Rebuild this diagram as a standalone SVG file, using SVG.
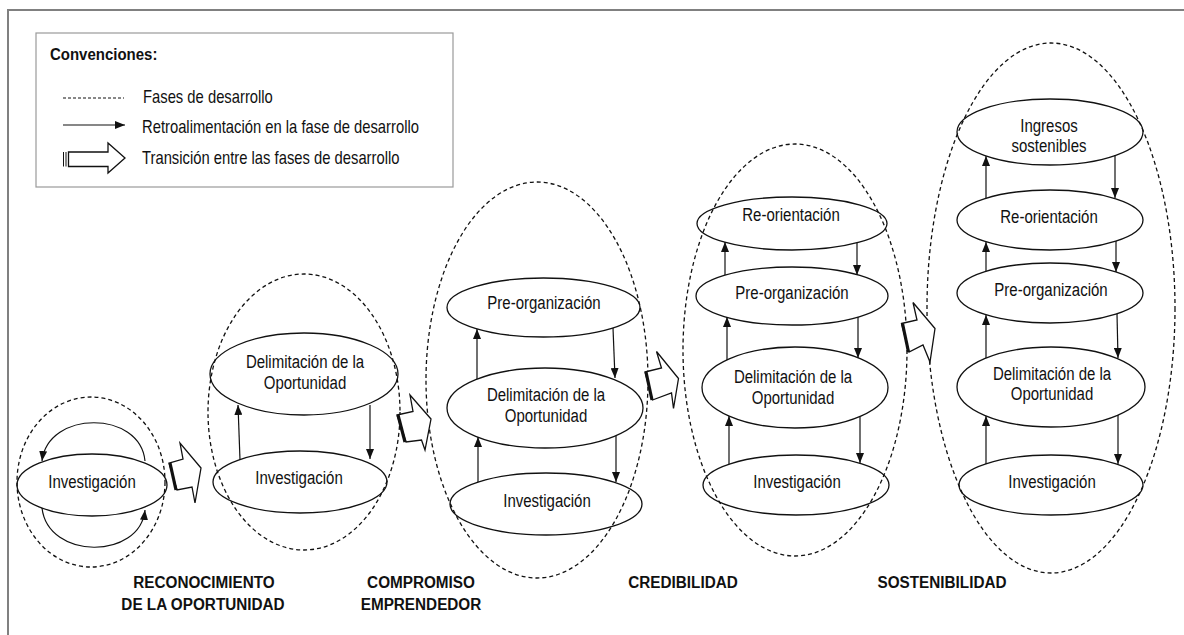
<svg xmlns="http://www.w3.org/2000/svg" width="1184" height="635" viewBox="0 0 1184 635">
<style>
.bg{fill:#fff}
.frame{fill:none;stroke:#808080;stroke-width:2}
.legend{fill:#fff;stroke:#9a9a9a;stroke-width:1.2}
.phase{fill:none;stroke:#111;stroke-width:1.3;stroke-dasharray:4 3}
.node{fill:none;stroke:#111;stroke-width:1.3}
.t{font-family:"Liberation Sans",Arial,sans-serif;font-size:15px;fill:#111;text-anchor:middle}
.tl{font-family:"Liberation Sans",Arial,sans-serif;font-size:14.8px;fill:#111}
.h{font-family:"Liberation Sans",Arial,sans-serif;font-size:15px;font-weight:bold;fill:#111}
.lbl{font-family:"Liberation Sans",Arial,sans-serif;font-size:15.3px;font-weight:bold;fill:#111;text-anchor:middle}
.fb{fill:none;stroke:#111;stroke-width:1.2;marker-end:url(#ah)}
.tr{fill:#fff;stroke:#111;stroke-width:1.3;stroke-linejoin:miter}
.bar{stroke:#111;stroke-width:3.2;fill:none}
.bar2{stroke:#111;stroke-width:1;fill:none}
</style>
<defs>
<marker id="ah" markerUnits="userSpaceOnUse" markerWidth="10" markerHeight="8" refX="10" refY="4" orient="auto">
<path d="M0,0 L10,4 L0,8 Z" fill="#111"/>
</marker>
</defs>
<rect class="bg" x="0" y="0" width="1184" height="635"/>
<path class="frame" d="M8,635 L8,10 L1184,10"/>

<g id="legend">
<rect class="legend" x="36" y="33" width="417" height="154"/>
<text class="h" transform="translate(50,60) scale(1,1.05)">Convenciones:</text>
<line x1="63" y1="98" x2="124" y2="98" stroke="#111" stroke-width="1" stroke-dasharray="3 2"/>
<text class="tl" transform="translate(143,103) scale(1,1.2)">Fases de desarrollo</text>
<line x1="63" y1="125" x2="125" y2="125" class="fb"/>
<text class="tl" transform="translate(142,133) scale(1,1.2)">Retroalimentación en la fase de desarrollo</text>
<line x1="63.5" y1="152" x2="63.5" y2="166.5" class="bar2"/>
<line x1="66" y1="152" x2="66" y2="166.5" class="bar2"/>
<path class="tr" d="M68.5,152 L108,152 L108,143 L125,158 L108,173 L108,166.5 L68.5,166.5 Z"/>
<text class="tl" transform="translate(142,164) scale(1,1.2)">Transición entre las fases de desarrollo</text>
</g>

<g id="fase-reconocimiento">
<ellipse class="phase" cx="91" cy="482" rx="74" ry="85"/>
<g id="n1-investigacion">
<ellipse class="node" cx="92" cy="485" rx="75" ry="31"/>
<text class="t" transform="translate(92,488) scale(1,1.19)">Investigación</text>
</g>
<text class="lbl" transform="translate(204,588) scale(1,1.08)">RECONOCIMIENTO</text>
<text class="lbl" transform="translate(203,610) scale(1,1.08)">DE LA OPORTUNIDAD</text>
</g>

<g id="fase-compromiso">
<ellipse class="phase" cx="304" cy="412" rx="96" ry="138"/>
<g id="n2-delimitacion">
<ellipse class="node" cx="304" cy="374" rx="94" ry="41"/>
<text class="t" transform="translate(305,368) scale(1,1.19)">Delimitación  de la</text>
<text class="t" transform="translate(305,389) scale(1,1.19)">Oportunidad</text>
</g>
<g id="n2-investigacion">
<ellipse class="node" cx="300" cy="482" rx="87" ry="31"/>
<text class="t" transform="translate(299,484) scale(1,1.19)">Investigación</text>
</g>
<text class="lbl" transform="translate(421,588) scale(1,1.08)">COMPROMISO</text>
<text class="lbl" transform="translate(421,610) scale(1,1.08)">EMPRENDEDOR</text>
</g>

<g id="fase-3">
<ellipse class="phase" cx="537" cy="380" rx="111" ry="198"/>
<g id="n3-preorganizacion">
<ellipse class="node" cx="543.5" cy="307.5" rx="96.5" ry="29.5"/>
<text class="t" transform="translate(544,309) scale(1,1.19)">Pre-organización</text>
</g>
<g id="n3-delimitacion">
<ellipse class="node" cx="545" cy="408" rx="98" ry="40"/>
<text class="t" transform="translate(546,401) scale(1,1.19)">Delimitación  de la</text>
<text class="t" transform="translate(546,422) scale(1,1.19)">Oportunidad</text>
</g>
<g id="n3-investigacion">
<ellipse class="node" cx="546" cy="504" rx="96" ry="31"/>
<text class="t" transform="translate(547,507) scale(1,1.19)">Investigación</text>
</g>
<text class="lbl" transform="translate(683,588) scale(1,1.08)">CREDIBILIDAD</text>
</g>

<g id="fase-4">
<ellipse class="phase" cx="795" cy="350" rx="112" ry="206"/>
<g id="n4-reorientacion">
<ellipse class="node" cx="792" cy="223.5" rx="95" ry="26.5"/>
<text class="t" transform="translate(791,221) scale(1,1.19)">Re-orientación</text>
</g>
<g id="n4-preorganizacion">
<ellipse class="node" cx="792" cy="296" rx="96" ry="29"/>
<text class="t" transform="translate(792,299) scale(1,1.19)">Pre-organización</text>
</g>
<g id="n4-delimitacion">
<ellipse class="node" cx="795" cy="387.5" rx="93" ry="40.5"/>
<text class="t" transform="translate(793,383) scale(1,1.19)">Delimitación  de la</text>
<text class="t" transform="translate(793,404) scale(1,1.19)">Oportunidad</text>
</g>
<g id="n4-investigacion">
<ellipse class="node" cx="796" cy="485" rx="93" ry="30"/>
<text class="t" transform="translate(797,488) scale(1,1.19)">Investigación</text>
</g>
<text class="lbl" transform="translate(942,588) scale(1,1.08)">SOSTENIBILIDAD</text>
</g>

<g id="fase-5">
<ellipse class="phase" cx="1051" cy="308" rx="124" ry="265"/>
<g id="n5-ingresos">
<ellipse class="node" cx="1050" cy="132" rx="93" ry="33"/>
<text class="t" transform="translate(1049,132) scale(1,1.19)">Ingresos</text>
<text class="t" transform="translate(1049,152) scale(1,1.19)">sostenibles</text>
</g>
<g id="n5-reorientacion">
<ellipse class="node" cx="1050" cy="220" rx="93" ry="30"/>
<text class="t" transform="translate(1049,223) scale(1,1.19)">Re-orientación</text>
</g>
<g id="n5-preorganizacion">
<ellipse class="node" cx="1050" cy="293" rx="93" ry="30"/>
<text class="t" transform="translate(1051,296) scale(1,1.19)">Pre-organización</text>
</g>
<g id="n5-delimitacion">
<ellipse class="node" cx="1051" cy="387" rx="94" ry="40"/>
<text class="t" transform="translate(1052,380) scale(1,1.19)">Delimitación  de la</text>
<text class="t" transform="translate(1052,400) scale(1,1.19)">Oportunidad</text>
</g>
<g id="n5-investigacion">
<ellipse class="node" cx="1051" cy="485" rx="92" ry="30"/>
<text class="t" transform="translate(1052,488) scale(1,1.19)">Investigación</text>
</g>
</g>

<g id="connectors">
<path class="fb" d="M145,461 C140,410 48,410 42,461"/>
<path class="fb" d="M42,508 C48,560 140,560 145,510"/>
<line class="fb" x1="240" y1="460" x2="238" y2="405"/>
<line class="fb" x1="370" y1="405" x2="370" y2="459"/>
<line class="fb" x1="477" y1="379" x2="477" y2="329"/>
<line class="fb" x1="478" y1="482" x2="478" y2="437"/>
<line class="fb" x1="613" y1="328" x2="615" y2="378"/>
<line class="fb" x1="616" y1="436" x2="616" y2="482"/>
<line class="fb" x1="725" y1="275" x2="725" y2="242"/>
<line class="fb" x1="727" y1="360" x2="727" y2="317"/>
<line class="fb" x1="729" y1="464" x2="729" y2="416"/>
<line class="fb" x1="857" y1="243" x2="857" y2="275"/>
<line class="fb" x1="858" y1="317" x2="858" y2="358"/>
<line class="fb" x1="860" y1="417" x2="860" y2="463"/>
<line class="fb" x1="986" y1="198" x2="986" y2="156"/>
<line class="fb" x1="986" y1="271" x2="986" y2="242"/>
<line class="fb" x1="986" y1="358" x2="986" y2="315"/>
<line class="fb" x1="986" y1="464" x2="986" y2="416"/>
<line class="fb" x1="1115" y1="155" x2="1115" y2="198"/>
<line class="fb" x1="1116" y1="241" x2="1116" y2="272"/>
<line class="fb" x1="1117" y1="314" x2="1118" y2="358"/>
<line class="fb" x1="1118" y1="415" x2="1118" y2="464"/>
</g>

<g id="transiciones">
<path class="tr" d="M169,463 L183,459 L180,443 L201,468 L195,503 L192,487 L177,490 Z"/>
<line class="bar" x1="170" y1="463" x2="176" y2="490"/>
<path class="tr" d="M397,415 L413,411.5 L410,395 L431,419 L425,450 L421.5,440 L406,442 Z"/>
<line class="bar" x1="398" y1="415" x2="405" y2="442"/>
<path class="tr" d="M645,372 L661.5,368 L656.5,351.5 L678.5,378.5 L673.5,408.5 L671.5,393 L652.5,400 Z"/>
<line class="bar" x1="646" y1="372" x2="652" y2="400"/>
<path class="tr" d="M901.5,323.5 L917,320 L913,302.5 L935,328.5 L930,362 L923,345 L909,352 Z"/>
<line class="bar" x1="902.5" y1="323.5" x2="908.5" y2="352"/>
</g>
</svg>
